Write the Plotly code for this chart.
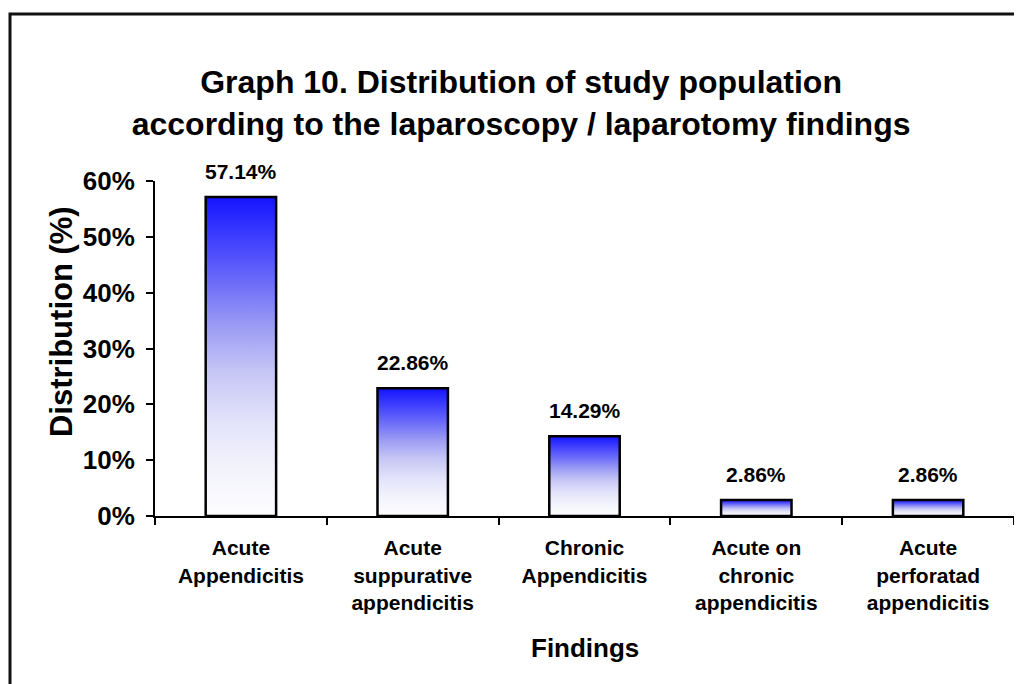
import plotly.graph_objects as go

# ── 数据 ─────────────────────────────────────────────────────────────────────
categories = ["Acute<br>Appendicitis",
              "Acute<br>suppurative<br>appendicitis",
              "Chronic<br>Appendicitis",
              "Acute on<br>chronic<br>appendicitis",
              "Acute<br>perforatad<br>appendicitis"]
values = [57.14, 22.86, 14.29, 2.86, 2.86]
y_ticks = [0, 10, 20, 30, 40, 50, 60]
y_ticktext = [f"{t}%" for t in y_ticks]

_FONT = "Liberation Sans, Arial, sans-serif"
_GRAD = [[0.0, "#fdfdff"], [0.15, "#f3f3fc"], [0.3, "#e2e2fa"], [0.45, "#c6c6f6"],
         [0.6, "#9a9af4"], [0.75, "#6666fa"], [0.9, "#3535ff"], [1.0, "#1414ff"]]
BAR_W = 0.41

fig = go.Figure()

# 每根柱子单独一个 trace，这样渐变从自己的底部铺到顶部
for i, v in enumerate(values):
    x0, x1 = i - BAR_W / 2, i + BAR_W / 2
    fig.add_trace(go.Scatter(
        x=[x0, x0, x1, x1, x0], y=[0, v, v, 0, 0],
        mode="lines", fill="toself",
        fillgradient=dict(type="vertical", colorscale=_GRAD),
        line=dict(color="black", width=2.5),
        hoverinfo="skip", showlegend=False,
    ))
    fig.add_annotation(
        x=i, y=v, text=f"{v:.2f}%", showarrow=False,
        yanchor="bottom", yshift=12,
        font=dict(family=_FONT, size=21, color="black", weight="bold"),
    )

# 页面 body 自带 8px 边距，所以图整体缩小 8px
fig.update_layout(
    width=1014, height=676,
    paper_bgcolor="white", plot_bgcolor="white",
    margin=dict(l=147, r=8, t=173, b=168),
    font=dict(family=_FONT, color="black", weight="bold"),
    title=dict(
        text="Graph 10. Distribution of study population<br>"
             "according to the laparoscopy / laparotomy findings",
        x=0.506, xanchor="center", y=0.874, yanchor="top",
        font=dict(family=_FONT, size=32, color="black", weight="bold"),
    ),
    showlegend=False,
)

fig.update_xaxes(
    range=[-0.5, 4.5],
    tickmode="array", tickvals=list(range(len(categories))), ticktext=categories,
    ticks="", ticklabelstandoff=12,
    tickfont=dict(family=_FONT, size=21, color="black", weight="bold"),
    minor=dict(tickmode="linear", tick0=-0.5, dtick=1, ticks="outside",
               ticklen=7, tickwidth=2, tickcolor="black", showgrid=False),
    showline=True, linecolor="black", linewidth=2,
    showgrid=False, zeroline=False, fixedrange=True,
)
fig.update_yaxes(
    range=[0, 60],
    tickmode="array", tickvals=y_ticks, ticktext=y_ticktext,
    ticks="outside", ticklen=7, tickwidth=2, tickcolor="black",
    ticklabelstandoff=6,
    tickfont=dict(family=_FONT, size=26, color="black", weight="bold"),
    showline=True, linecolor="black", linewidth=2,
    showgrid=False, zeroline=False, fixedrange=True,
)

# 坐标轴标题
fig.add_annotation(
    xref="paper", yref="paper", x=0.5, y=-0.394, yanchor="middle",
    text="Findings", showarrow=False,
    font=dict(family=_FONT, size=26, color="black", weight="bold"),
)
fig.add_annotation(
    xref="paper", yref="paper", x=-0.1094, y=0.579, xanchor="center", yanchor="middle",
    text="Distribution (%)", textangle=-90, showarrow=False,
    font=dict(family=_FONT, size=31, color="black", weight="bold"),
)

# 外框
fig.add_shape(
    type="rect", xref="paper", yref="paper",
    x0=-0.1688, x1=1.03, y0=-0.6, y1=1.4985,
    line=dict(color="#111111", width=3), fillcolor="rgba(0,0,0,0)", layer="below",
)

fig.write_html("out.html")
